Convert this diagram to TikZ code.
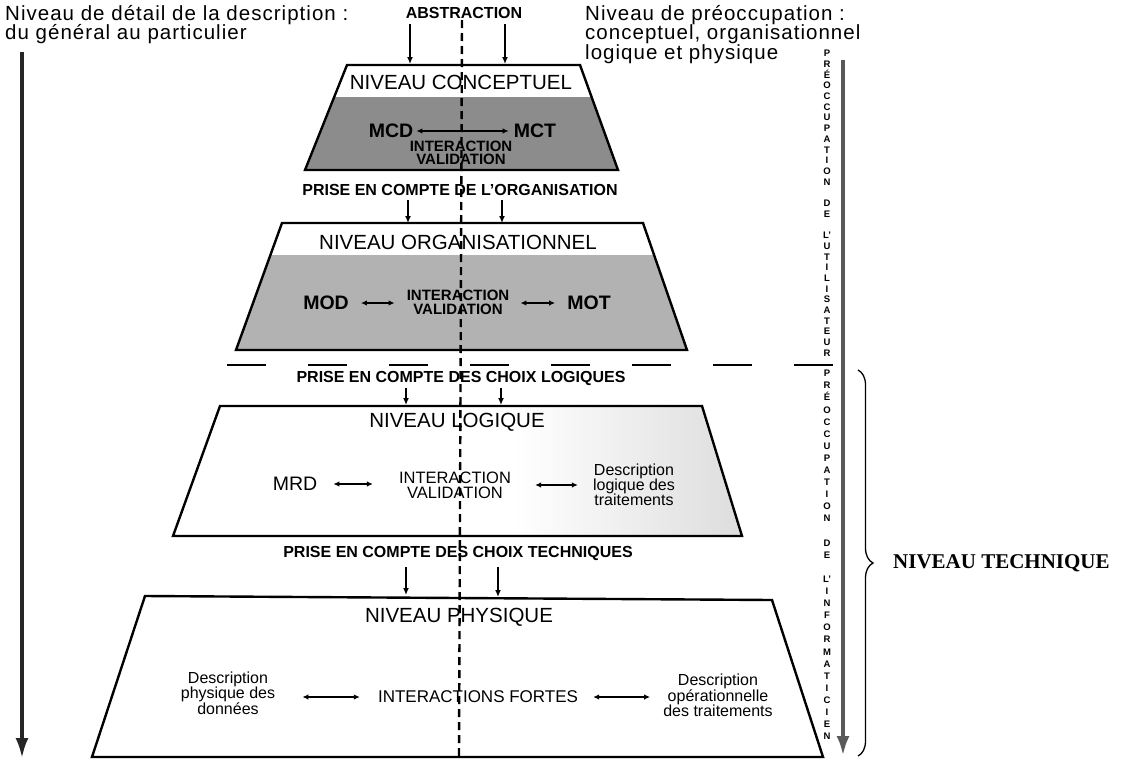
\documentclass[tikz,border=0pt]{standalone}
\usepackage{fontspec}
\setmainfont{Liberation Sans}
\newfontfamily\techfont{Liberation Serif}
\newfontfamily\hdrfont[LetterSpace=5]{Liberation Sans}
\usetikzlibrary{arrows.meta,decorations.pathreplacing}

\definecolor{concgray}{gray}{0.55}
\definecolor{orggray}{gray}{0.70}
\definecolor{axisgray}{gray}{0.35}
\pgfdeclarehorizontalshading{logshade}{100bp}{color(0bp)=(white); color(55bp)=(white); color(85bp)=(black!20); color(100bp)=(black!27)}

\begin{document}
\begin{tikzpicture}[x=1pt,y=-1pt,
  box/.style={draw=black,line width=2.4pt,line join=miter},
  ttl/.style={inner sep=0pt,font=\fontsize{20.5}{24}\selectfont},
  mdl/.style={inner sep=0pt,font=\fontsize{19.5}{22}\selectfont\bfseries},
  mdr/.style={inner sep=0pt,font=\fontsize{19.5}{22}\selectfont},
  itb/.style={inner sep=0pt,align=center,font=\fontsize{15}{13.5}\selectfont\bfseries},
  itr/.style={inner sep=0pt,align=center,font=\fontsize{16.5}{15}\selectfont},
  prise/.style={inner sep=0pt,font=\fontsize{16}{18}\selectfont\bfseries},
  desc/.style={inner sep=0pt,align=center,font=\fontsize{16}{15}\selectfont},
  hdr/.style={inner sep=0pt,anchor=base west,font=\hdrfont\fontsize{20.5}{20.5}\selectfont},
  vtxt/.style={inner sep=0pt,align=center,anchor=north},
  down/.style={-{Latex[length=7pt,width=6pt]},line width=1.6pt},
  dbl/.style={{Latex[length=6pt,width=5.5pt]}-{Latex[length=6pt,width=5.5pt]},line width=1.8pt},
  axis/.style={-{Latex[length=20pt,width=13pt]}},
]
\useasboundingbox (0,0) rectangle (1124,763);

% ---- headers
\node[hdr] (hdl1) at (5,20) {Niveau de détail de la description :};
\node[hdr] (hdl2) at (5,39.5) {du général au particulier};
\node[hdr] (hdr1) at (585,20) {Niveau de préoccupation :};
\node[hdr] (hdr2) at (585,39.5) {conceptuel, organisationnel};
\node[hdr] (hdr3) at (585,59) {logique et physique};
\node[prise] (abs) at (464,13) {ABSTRACTION};

% ---- side axes
\coordinate (lt) at (22,52); \coordinate (lb) at (22,758);
\draw[axis,black!85,line width=3.2pt] (lt) -- (lb);
\coordinate (rt) at (843,60); \coordinate (rb) at (843,756);
\draw[axis,axisgray,line width=4pt] (rt) -- (rb);

% ---- level shapes
\fill[white] (347,65) -- (580,65) -- (618,170) -- (305,170) -- cycle;
\fill[concgray] (334.2,97) -- (591.6,97) -- (618,170) -- (305,170) -- cycle;
\draw[box] (347,65) -- (580,65) -- (618,170) -- (305,170) -- cycle;

\fill[orggray] (270.4,255) -- (654.1,255) -- (687,350) -- (236,350) -- cycle;
\draw[box] (282,223) -- (643,223) -- (687,350) -- (236,350) -- cycle;

\shade[shading=logshade]
  (220,406) -- (702,406) -- (742,536) -- (173,536) -- cycle;
\draw[box] (220,406) -- (702,406) -- (742,536) -- (173,536) -- cycle;

\draw[box] (145,596) -- (772,600) -- (823,757) -- (92,757) -- cycle;

% ---- conceptual level
\coordinate (a0l) at (410,24); \coordinate (a0le) at (410,64);
\coordinate (a0r) at (505,24); \coordinate (a0re) at (505,64);
\draw[down] (a0l) -- (a0le);
\draw[down] (a0r) -- (a0re);
\node[ttl] (tc) at (461,82) {NIVEAU CONCEPTUEL};
\node[mdl] (mcd) at (391,131) {MCD};
\node[mdl] (mct) at (535,131) {MCT};
\node[itb] (ic) at (461,153) {INTERACTION\\VALIDATION};
\draw[dbl,shorten <=3pt,shorten >=5pt] (mcd.east) -- (mcd.east -| mct.west);

% ---- organisational level
\node[prise] (p1) at (460,190) {PRISE EN COMPTE DE L'ORGANISATION};
\coordinate (a1l) at (408,200); \coordinate (a1le) at (408,223);
\coordinate (a1r) at (502,200); \coordinate (a1re) at (502,223);
\draw[down] (a1l) -- (a1le);
\draw[down] (a1r) -- (a1re);
\node[ttl] (to) at (458,242) {NIVEAU ORGANISATIONNEL};
\node[mdl] (mod) at (326,303) {MOD};
\node[mdl] (mot) at (589,303) {MOT};
\node[itb,font=\fontsize{15}{14}\selectfont\bfseries] (io) at (458,302) {INTERACTION\\VALIDATION};
\draw[dbl,shorten <=12pt,shorten >=12pt] (mod.east) -- (mod.east -| io.west);
\draw[dbl,shorten <=11pt,shorten >=12pt] (mot.west -| io.east) -- (mot.west);

% ---- separator between user and IT concerns
\coordinate (sepL) at (227,365); \coordinate (sepR) at (838,365);
\draw[line width=1.6pt,dash pattern=on 39pt off 42pt] (sepL) -- (sepR);

% ---- logical level
\node[prise] (p2) at (461,378) {PRISE EN COMPTE DES CHOIX LOGIQUES};
\coordinate (a2l) at (406,388); \coordinate (a2le) at (406,405);
\coordinate (a2r) at (501,388); \coordinate (a2re) at (501,405);
\draw[down] (a2l) -- (a2le);
\draw[down] (a2r) -- (a2re);
\node[ttl] (tl) at (457,422) {NIVEAU LOGIQUE};
\node[mdr] (mrd) at (295,484) {MRD};
\node[itr] (il) at (455,485.5) {INTERACTION\\VALIDATION};
\node[desc] (dl) at (634,485) {Description\\logique des\\traitements};
\draw[dbl,shorten <=16pt,shorten >=26pt] (mrd.east) -- (mrd.east -| il.west);
\draw[dbl,shorten <=24pt,shorten >=15pt] (dl.west -| il.east) -- (dl.west);

% ---- physical level
\node[prise] (p3) at (458,553) {PRISE EN COMPTE DES CHOIX TECHNIQUES};
\coordinate (a3l) at (406,567); \coordinate (a3le) at (406,595);
\coordinate (a3r) at (498,567); \coordinate (a3re) at (498,597);
\draw[down] (a3l) -- (a3le);
\draw[down] (a3r) -- (a3re);
\node[ttl] (tp) at (459,617) {NIVEAU PHYSIQUE};
\node[desc] (dp) at (228,693) {Description\\physique des\\données};
\node[itr,font=\fontsize{17}{17}\selectfont] (ip) at (478,697) {INTERACTIONS FORTES};
\node[desc] (dop) at (718,695) {Description\\opérationnelle\\des traitements};
\draw[dbl,shorten <=27pt,shorten >=18pt] (dp.east |- ip.west) -- (ip.west);
\draw[dbl,shorten <=15pt,shorten >=13pt] (ip.east) -- (ip.east -| dop.west);

% ---- central dashed axis
\coordinate (ct) at (462,20); \coordinate (cb) at (459,757);
\draw[line width=2.4pt,dash pattern=on 8pt off 5pt] (ct) -- (cb);

% ---- vertical labels along the right axis
\node[vtxt,font=\fontsize{9.5}{10.7}\selectfont\bfseries] (vu) at (827,50)
  {P\\R\\É\\O\\C\\C\\U\\P\\A\\T\\I\\O\\N\\[10.7pt]D\\E\\[10.7pt]L'\\U\\T\\I\\L\\I\\S\\A\\T\\E\\U\\R};
\node[vtxt,font=\fontsize{9.5}{12.1}\selectfont\bfseries] (vi) at (827,370)
  {P\\R\\É\\O\\C\\C\\U\\P\\A\\T\\I\\O\\N\\[12.1pt]D\\E\\[12.1pt]L'\\I\\N\\F\\O\\R\\M\\A\\T\\I\\C\\I\\E\\N};

% ---- technical level brace
\coordinate (bt) at (858,370); \coordinate (bb) at (858,756);
\draw[decorate,decoration={brace,amplitude=15pt},line width=1.3pt] (bt) -- (bb);
\node[inner sep=0pt,anchor=west,font=\techfont\bfseries\fontsize{21}{21}\selectfont] (tech) at (893,563) {NIVEAU TECHNIQUE};
\end{tikzpicture}
\end{document}
